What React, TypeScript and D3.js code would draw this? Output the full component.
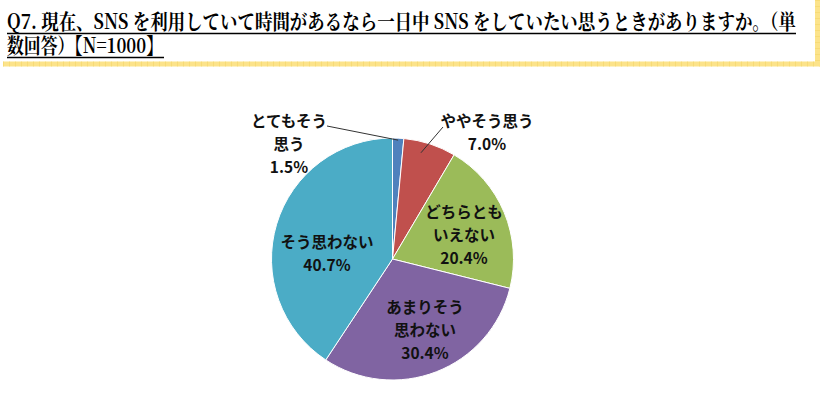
import React from "react";
import * as d3 from "d3";

const categories = ["とてもそう思う", "ややそう思う", "どちらともいえない", "あまりそう思わない", "そう思わない"];
const values = [1.5, 7.0, 20.4, 30.4, 40.7];
const colors = ["#4F81BD", "#C0504D", "#9BBB59", "#8064A2", "#4BACC6"];
const labelLines = [["とてもそう", "思う"], ["ややそう思う"], ["どちらとも", "いえない"], ["あまりそう", "思わない"], ["そう思わない"]];
const titleLines = [
  "Q7. 現在、SNS を利用していて時間があるなら一日中 SNS をしていたい思うときがありますか。（単",
  "数回答）【N=1000】",
];

const W = 826, H = 394;
const cx = 392.5, cy = 259, R = 121;
// label anchor positions (center x, first line y)
const labelPos: [number, number][] = [[289, 123], [487, 123], [464, 214], [425, 309], [327, 244]];

export default function App() {
  const pie = d3.pie<number>().sort(null).value((d) => d).startAngle(0).endAngle(2 * Math.PI);
  const arcs = pie(values);
  const arc = d3.arc<d3.PieArcDatum<number>>().innerRadius(0).outerRadius(R);
  const labelFont = "'Noto Sans CJK JP', 'Noto Sans', sans-serif";
  const titleFont = "'Noto Serif CJK JP', 'Liberation Serif', 'Noto Sans CJK JP', serif";
  const lh = 23;
  const p0 = d3.arc<any>().innerRadius(R - 2).outerRadius(R - 2).centroid(arcs[0] as any);
  const p1 = d3.arc<any>().innerRadius(R - 3).outerRadius(R - 3).centroid(arcs[1] as any);
  return (
    <svg width={W} height={H} style={{ position: "absolute", left: 0, top: 0, background: "#fff" }}>
      {/* title */}
      <g fontFamily={titleFont} fontSize={21} fill="#000" fontWeight={700}>
        <text x={7} y={29} textLength={789} lengthAdjust="spacingAndGlyphs">{titleLines[0]}</text>
        <line x1={7} x2={796} y1={33.5} y2={33.5} stroke="#000" strokeWidth={1.3} />
        <text x={7} y={53} textLength={156} lengthAdjust="spacingAndGlyphs">{titleLines[1]}</text>
        <line x1={7} x2={164} y1={57.5} y2={57.5} stroke="#000" strokeWidth={1.3} />
      </g>
      {/* yellow frame */}
      <line x1={3} x2={820} y1={64} y2={64} stroke="#FCE38A" strokeWidth={5} />
      <line x1={3} x2={820} y1={64} y2={64} stroke="#F5D66A" strokeWidth={5} strokeDasharray="1 5" opacity={0.6} />
      <line x1={817.5} x2={817.5} y1={0} y2={66} stroke="#FCE38A" strokeWidth={5} />
      <line x1={817.5} x2={817.5} y1={0} y2={66} stroke="#F5D66A" strokeWidth={5} strokeDasharray="1 5" opacity={0.6} />
      {/* pie */}
      <g transform={`translate(${cx},${cy})`}>
        {arcs.map((a, i) => (
          <path key={categories[i]} d={arc(a) || ""} fill={colors[i]} stroke="#fff" strokeWidth={1} />
        ))}
      </g>
      {/* leader lines */}
      <polyline points={`327,126 ${cx + p0[0]},${cy + p0[1]}`} fill="none" stroke="#333" strokeWidth={1} />
      <polyline points={`443,127 ${cx + p1[0] - 8},${cy + p1[1] + 6}`} fill="none" stroke="#333" strokeWidth={1} />
      {/* labels */}
      <g fontFamily={labelFont} fontSize={15.5} fontWeight={700} fill="#111" textAnchor="middle">
        {values.map((v, i) => {
          const [x, y] = labelPos[i];
          const lines = labelLines[i];
          return (
            <text key={categories[i]} x={x} y={y} dominantBaseline="middle">
              {lines.map((l, j) => (
                <tspan key={j} x={x} y={y + j * lh}>{l}</tspan>
              ))}
              <tspan x={x} y={y + lines.length * lh}>{v.toFixed(1)}%</tspan>
            </text>
          );
        })}
      </g>
    </svg>
  );
}
